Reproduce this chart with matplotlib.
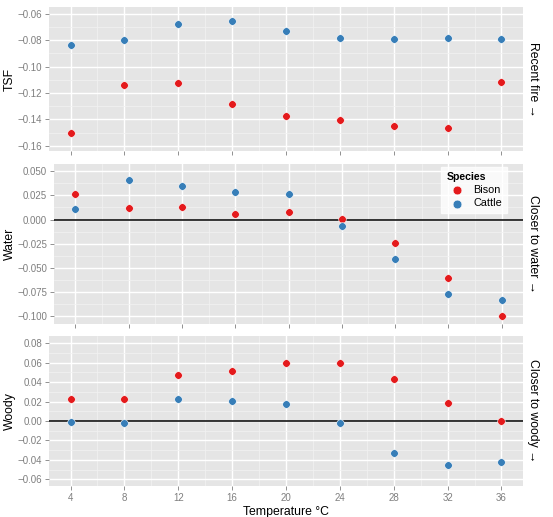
import numpy as np
import matplotlib
matplotlib.use('Agg')
import matplotlib.pyplot as plt
from matplotlib.ticker import FixedLocator

plt.rcParams['font.family'] = ['Liberation Sans', 'DejaVu Sans']

# data
temps = [4, 8, 12, 16, 20, 24, 28, 32, 36]

tsf_bison = [-0.1506, -0.1137, -0.1126, -0.1281, -0.1374, -0.1407, -0.1448, -0.1463, -0.1113]
tsf_cattle = [-0.0833, -0.0797, -0.0678, -0.0653, -0.0731, -0.0780, -0.0792, -0.0782, -0.0792]

water_bison = [0.0269, 0.0120, 0.0131, 0.0061, 0.0076, 0.0009, -0.0246, -0.0609, -0.1000]
water_cattle = [0.0107, 0.0408, 0.0345, 0.0283, 0.0262, -0.0063, -0.0409, -0.0772, -0.0834]

woody_bison = [0.0227, 0.0223, 0.0474, 0.0512, 0.0597, 0.0600, 0.0436, 0.0186, 0.0003]
woody_cattle = [-0.0010, -0.0018, 0.0230, 0.0203, 0.0172, -0.0020, -0.0330, -0.0456, -0.0422]

x_ticks = [4, 8, 12, 16, 20, 24, 28, 32, 36]
tsf_ticks = [-0.16, -0.14, -0.12, -0.10, -0.08, -0.06]
water_ticks = [-0.100, -0.075, -0.050, -0.025, 0.000, 0.025, 0.050]
woody_ticks = [-0.06, -0.04, -0.02, 0.00, 0.02, 0.04, 0.06, 0.08]

RED = '#E41A1C'
BLUE = '#377EB8'
PANEL = '#E5E5E5'
TICKC = '#7F7F7F'

fig = plt.figure(figsize=(5.53, 5.17), dpi=100)

# panel positions (fractions of the figure)
ax1 = fig.add_axes([0.0886, 0.7079, 0.8572, 0.2786])
ax2 = fig.add_axes([0.0976, 0.3733, 0.8482, 0.3095])
ax3 = fig.add_axes([0.0886, 0.0600, 0.8572, 0.2901])

panels = [
    (ax1, tsf_bison, tsf_cattle, tsf_ticks, (-0.1640, -0.0547), 'TSF', 'Recent fire \u2192', '{:.2f}', False),
    (ax2, water_bison, water_cattle, water_ticks, (-0.1083, 0.0576), 'Water', 'Closer to water \u2192', '{:.3f}', True),
    (ax3, woody_bison, woody_cattle, woody_ticks, (-0.0669, 0.0875), 'Woody', 'Closer to woody \u2192', '{:.2f}', True),
]

for ax, bison, cattle, yt, ylim, ylab, rlab, fmt, zero in panels:
    ax.set_facecolor(PANEL)
    for s in ax.spines.values():
        s.set_visible(False)
    ax.set_xlim(2.4, 37.6)
    ax.set_ylim(*ylim)

    # grid: major white, minor lighter
    ax.xaxis.set_major_locator(FixedLocator(x_ticks))
    ax.xaxis.set_minor_locator(FixedLocator([t + 2 for t in x_ticks[:-1]]))
    ax.yaxis.set_major_locator(FixedLocator(yt))
    step = yt[1] - yt[0]
    ax.yaxis.set_minor_locator(FixedLocator([t + step / 2 for t in yt[:-1]]))
    ax.grid(which='major', color='white', linewidth=1.0)
    ax.grid(which='minor', color='#F2F2F2', linewidth=0.5)
    ax.set_axisbelow(True)

    if zero:
        ax.axhline(0, color='black', linewidth=1.1, zorder=2)

    ax.scatter(temps, bison, s=30, color=RED, edgecolor='white', linewidth=0.4, zorder=3, label='Bison')
    ax.scatter(temps, cattle, s=30, color=BLUE, edgecolor='white', linewidth=0.4, zorder=3, label='Cattle')

    ax.set_yticklabels([fmt.format(v).replace('-', '\u2212') for v in yt])
    ax.tick_params(which='major', length=3, width=0.6, color=TICKC, labelcolor=TICKC, labelsize=7, pad=2)
    ax.tick_params(which='minor', length=0)

    # y title at a fixed place near the left edge
    pos = ax.get_position()
    fig.text(10 / 553, pos.y0 + pos.height / 2, ylab, rotation=90,
             ha='center', va='center', fontsize=8.8)

    ax.text(1.022, 0.5, rlab, transform=ax.transAxes, rotation=-90,
            ha='center', va='center', fontsize=8.8)

ax1.tick_params(axis='x', labelbottom=False)
ax2.tick_params(axis='x', labelbottom=False)
ax3.set_xlabel('Temperature \u00b0C', fontsize=8.8, labelpad=2)

leg = ax2.legend(title='Species', loc='upper right', bbox_to_anchor=(0.966, 0.981),
                 borderaxespad=0, frameon=True, fontsize=7.8, title_fontsize=7.6,
                 handletextpad=0.5, labelspacing=0.3, borderpad=0.45, fancybox=False,
                 scatterpoints=1, markerscale=1.15)
leg.get_frame().set_facecolor('white')
leg.get_frame().set_edgecolor('white')
leg.get_title().set_fontweight('bold')
leg._legend_box.align = 'left'

fig.savefig('out.png', dpi=100)
